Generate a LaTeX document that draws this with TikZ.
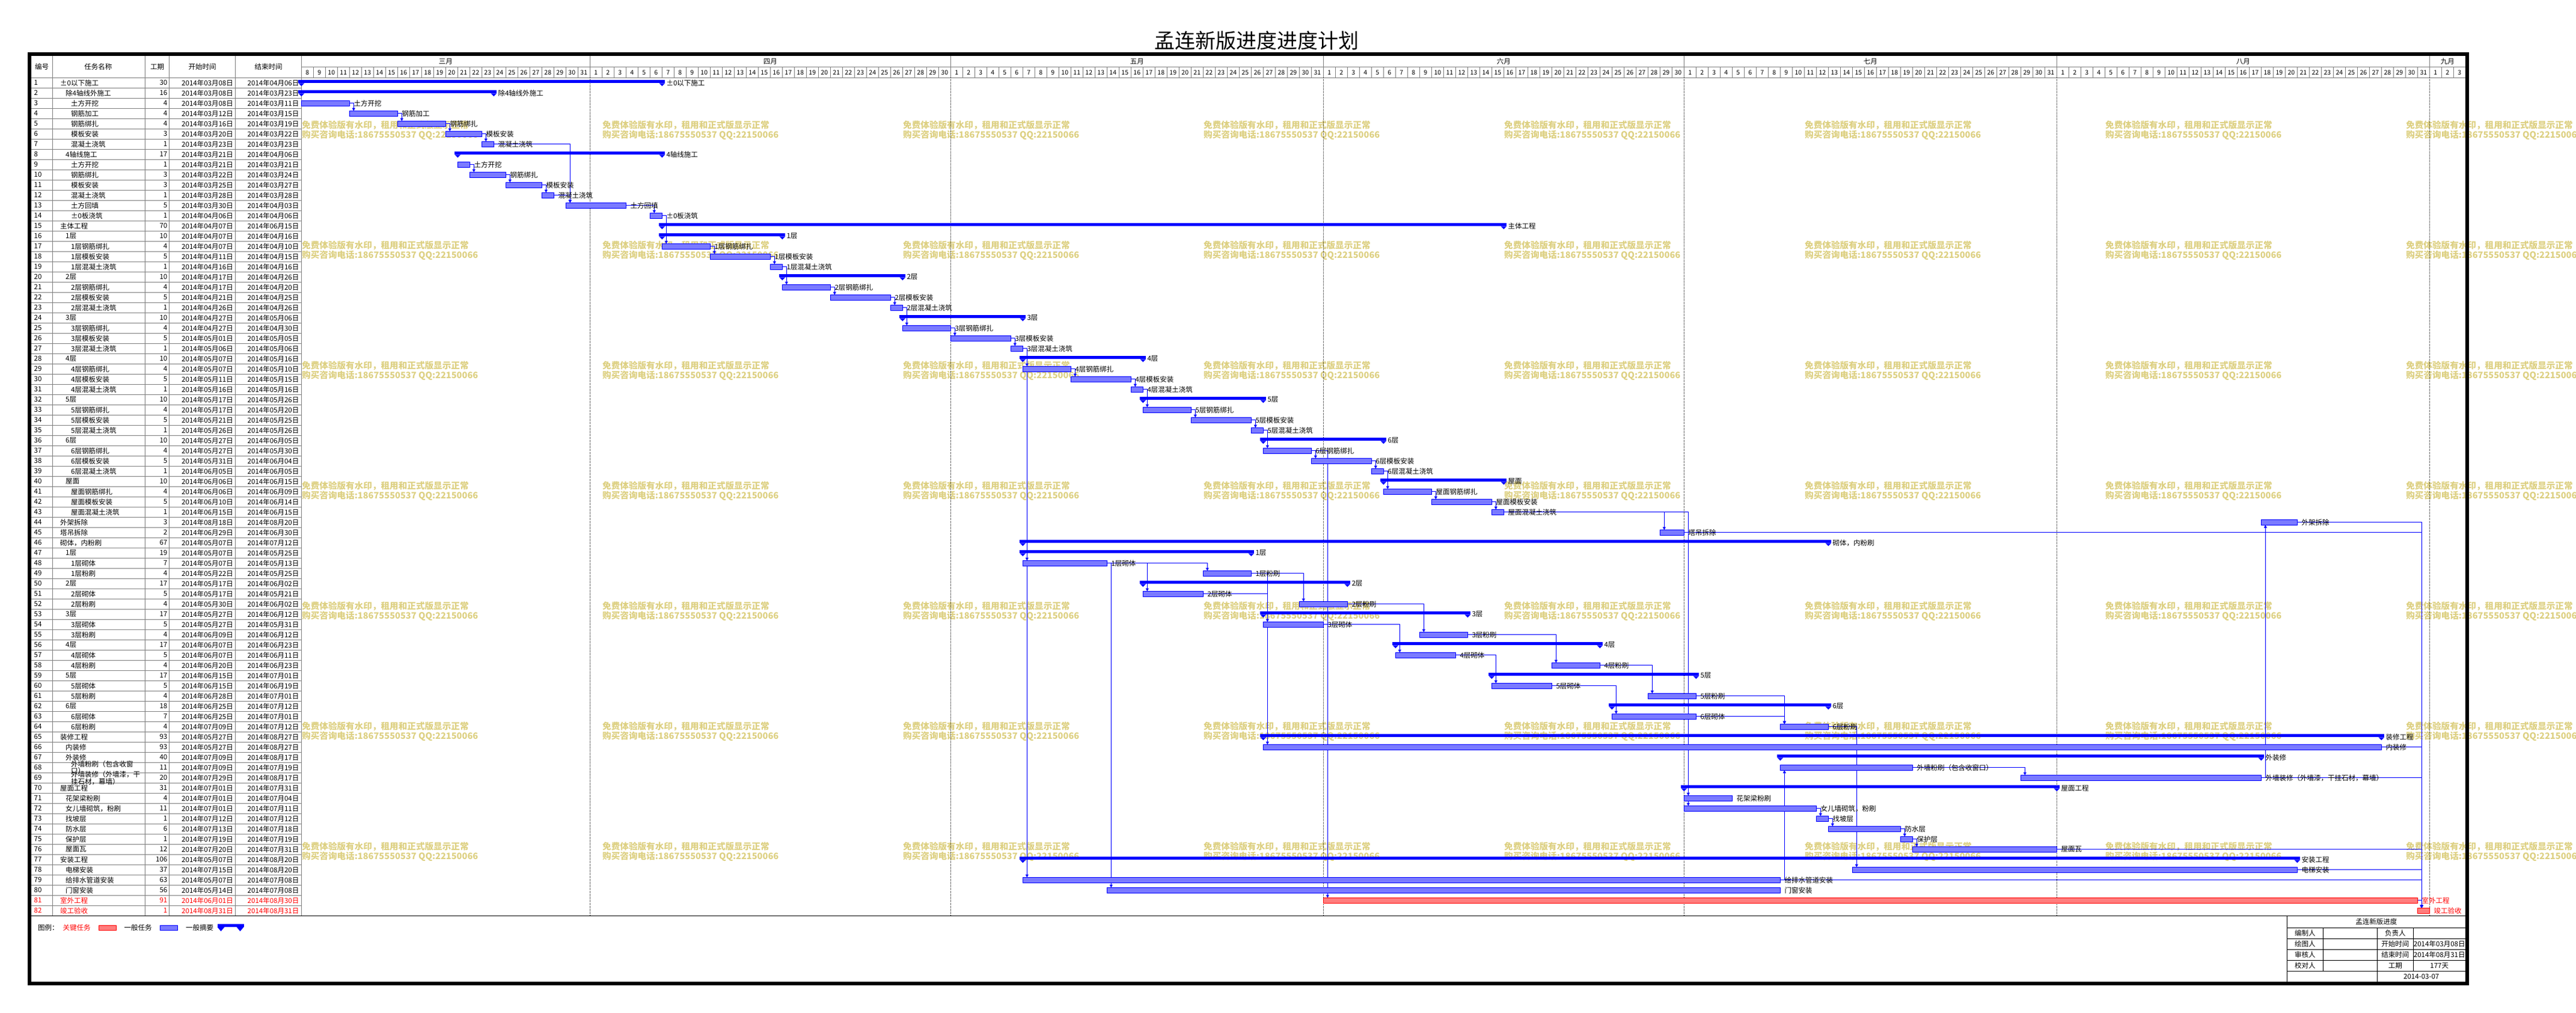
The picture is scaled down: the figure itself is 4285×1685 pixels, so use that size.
\documentclass[tikz,border=0pt]{standalone}
\usepackage{fontspec}
\setmainfont{Noto Sans CJK SC}
\usetikzlibrary{arrows.meta}
\pgfdeclarelayer{back}
\pgfsetlayers{back,main}
\definecolor{gridgray}{RGB}{128,128,128}
\definecolor{hatchblue}{RGB}{122,122,255}
\definecolor{hatchred}{RGB}{255,125,125}
\definecolor{wmcolor}{RGB}{221,208,130}
\tikzset{
  cellline/.style={gridgray,line width=1pt},
  blkline/.style={black,line width=1pt},
  celltxt/.style={inner sep=0pt,font=\fontsize{11.5}{11}\selectfont},
  nametxt/.style={align=left},
  ttext/.style={}, stext/.style={}, ctext/.style={text=red},
  tbar/.style={draw=blue,fill=hatchblue,line width=0.8pt,minimum width={#1},minimum height=8.5,inner sep=0pt,outer sep=0pt,anchor=west},
  cbar/.style={draw=red,fill=hatchred,line width=0.8pt,minimum width={#1},minimum height=8.5,inner sep=0pt,outer sep=0pt,anchor=west},
  sbar/.style={fill=blue,minimum width={#1+10},minimum height=5,inner sep=0pt,outer sep=0pt,anchor=west,xshift=-5pt,yshift=2pt},
  tlab/.style={celltxt,anchor=west}, slab/.style={celltxt,anchor=west}, clab/.style={celltxt,anchor=west,text=red},
  link/.style={blue,line width=0.9pt,-{Triangle[length=5pt,width=5pt]}},
  monthline/.style={black,line width=0.8pt,dash pattern=on 1pt off 1.5pt},
  wmark/.style={inner sep=0pt,anchor=west,text=wmcolor,font=\fontsize{14.6}{15}\selectfont\bfseries},
}
% table row: id, level, name, duration, start, end, type
\newcommand{\trow}[7]{%
  \pgfmathsetmacro\rowy{137.8+17*(#1-1)}%
  \node[celltxt,#7text,anchor=west] (no#1) at (56.5,\rowy) {#1};
  \node[celltxt,nametxt,#7text,anchor=west] (na#1) at ({100+9*(#2-1)},\rowy) {#3};
  \node[celltxt,#7text,anchor=east] (du#1) at (278.5,\rowy) {#4};
  \node[celltxt,#7text,anchor=east] (st#1) at (388,\rowy) {2014年#5日};
  \node[celltxt,#7text,anchor=east] (en#1) at (497.5,\rowy) {2014年#6日};
}
\newcommand{\barcapt}[1]{}
\newcommand{\barcapc}[1]{}
\newcommand{\barcaps}[1]{%
  \fill[blue] (#1.south west) -- ++(10,0) -- ++(-5,5) -- cycle;
  \fill[blue] (#1.south east) -- ++(-10,0) -- ++(5,5) -- cycle;}
% gantt bar: id, first day, last day, type, label
\newcommand{\tbar}[5]{%
  \pgfmathsetmacro\rowy{137.8+17*(#1-1)}%
  \pgfmathsetmacro\barx{501.3+20*#2}%
  \pgfmathsetmacro\barw{20*(#3-#2+1)}%
  \node[#4bar=\barw] (b#1) at (\barx,\rowy) {};
  \csname barcap#4\endcsname{b#1}
  \node[#4lab] (l#1) at ({501.3+20*(#3+1)+7},\rowy) {#5};
}
\newcommand{\monthdays}[4]{%
  \foreach \dy in {#2,...,#3}{
    \node[celltxt,font=\fontsize{10.5}{10}\selectfont] (#4\dy) at ({501.3+20*(\dy+#1)+10},120.5) {\dy};
  }}

\begin{document}
\begin{tikzpicture}[x=1pt,y=-1pt]
\useasboundingbox (0,0) rectangle (4285,1685);
\node (title) at (2090,68) {\fontsize{34}{34}\selectfont 孟连新版进度进度计划};

% watermark
\begin{pgfonlayer}{back}
\foreach \wx in {502,1002,...,4002}{
  \foreach \wy in {208,408,...,1408}{
    \node[wmark] (wa\wx-\wy) at (\wx,\wy) {免费体验版有水印，租用和正式版显示正常};
    \node[wmark] (wb\wx-\wy) at (\wx,\wy+17) {购买咨询电话:18675550537 QQ:22150066};
  }
}
\end{pgfonlayer}

% header
\draw[cellline] (501.3,111.7) -- (4101,111.7);
\draw[cellline] (51.5,129.3) -- (4101,129.3);
\foreach \i in {1,...,179} \draw[cellline] ({501.3+20*\i},111.7) -- ({501.3+20*\i},129.3);
\foreach \i in {24,54,85,115,146,177}{
  \draw[cellline] ({501.3+20*\i},93.3) -- ({501.3+20*\i},111.7);
  \draw[monthline] ({501.3+20*\i},129.3) -- ({501.3+20*\i},1523.3);
}
\node[celltxt] (m3) at (741.3,102.5) {三月};
\node[celltxt] (m4) at (1281.3,102.5) {四月};
\node[celltxt] (m5) at (1891.3,102.5) {五月};
\node[celltxt] (m6) at (2501.3,102.5) {六月};
\node[celltxt] (m7) at (3111.3,102.5) {七月};
\node[celltxt] (m8) at (3731.3,102.5) {八月};
\node[celltxt] (m9) at (4071.3,102.5) {九月};
\monthdays{-8}{8}{31}{mar}
\monthdays{23}{1}{30}{apr}
\monthdays{53}{1}{31}{may}
\monthdays{84}{1}{30}{jun}
\monthdays{114}{1}{31}{jul}
\monthdays{145}{1}{31}{aug}
\monthdays{176}{1}{3}{sep}

% table
\foreach \r in {1,...,81} \draw[cellline] (51.5,{129.3+17*\r}) -- (501.3,{129.3+17*\r});
\foreach \c in {87.7,241.7,281.3,391.7,501.3} \draw[cellline] (\c,93.3) -- (\c,1523.3);
\node[celltxt,anchor=west] (hno) at (58,111.3) {编号};
\node[celltxt] (hna) at (163.3,111.3) {任务名称};
\node[celltxt] (hdu) at (261.5,111.3) {工期};
\node[celltxt] (hst) at (336.5,111.3) {开始时间};
\node[celltxt] (hen) at (446.5,111.3) {结束时间};

\trow{1}{1}{±0以下施工}{30}{03月08}{04月06}{s}  \tbar{1}{0}{29}{s}{±0以下施工}
\trow{2}{2}{除4轴线外施工}{16}{03月08}{03月23}{s}  \tbar{2}{0}{15}{s}{除4轴线外施工}
\trow{3}{3}{土方开挖}{4}{03月08}{03月11}{t}  \tbar{3}{0}{3}{t}{土方开挖}
\trow{4}{3}{钢筋加工}{4}{03月12}{03月15}{t}  \tbar{4}{4}{7}{t}{钢筋加工}
\trow{5}{3}{钢筋绑扎}{4}{03月16}{03月19}{t}  \tbar{5}{8}{11}{t}{钢筋绑扎}
\trow{6}{3}{模板安装}{3}{03月20}{03月22}{t}  \tbar{6}{12}{14}{t}{模板安装}
\trow{7}{3}{混凝土浇筑}{1}{03月23}{03月23}{t}  \tbar{7}{15}{15}{t}{混凝土浇筑}
\trow{8}{2}{4轴线施工}{17}{03月21}{04月06}{s}  \tbar{8}{13}{29}{s}{4轴线施工}
\trow{9}{3}{土方开挖}{1}{03月21}{03月21}{t}  \tbar{9}{13}{13}{t}{土方开挖}
\trow{10}{3}{钢筋绑扎}{3}{03月22}{03月24}{t}  \tbar{10}{14}{16}{t}{钢筋绑扎}
\trow{11}{3}{模板安装}{3}{03月25}{03月27}{t}  \tbar{11}{17}{19}{t}{模板安装}
\trow{12}{3}{混凝土浇筑}{1}{03月28}{03月28}{t}  \tbar{12}{20}{20}{t}{混凝土浇筑}
\trow{13}{3}{土方回填}{5}{03月30}{04月03}{t}  \tbar{13}{22}{26}{t}{土方回填}
\trow{14}{3}{±0板浇筑}{1}{04月06}{04月06}{t}  \tbar{14}{29}{29}{t}{±0板浇筑}
\trow{15}{1}{主体工程}{70}{04月07}{06月15}{s}  \tbar{15}{30}{99}{s}{主体工程}
\trow{16}{2}{1层}{10}{04月07}{04月16}{s}  \tbar{16}{30}{39}{s}{1层}
\trow{17}{3}{1层钢筋绑扎}{4}{04月07}{04月10}{t}  \tbar{17}{30}{33}{t}{1层钢筋绑扎}
\trow{18}{3}{1层模板安装}{5}{04月11}{04月15}{t}  \tbar{18}{34}{38}{t}{1层模板安装}
\trow{19}{3}{1层混凝土浇筑}{1}{04月16}{04月16}{t}  \tbar{19}{39}{39}{t}{1层混凝土浇筑}
\trow{20}{2}{2层}{10}{04月17}{04月26}{s}  \tbar{20}{40}{49}{s}{2层}
\trow{21}{3}{2层钢筋绑扎}{4}{04月17}{04月20}{t}  \tbar{21}{40}{43}{t}{2层钢筋绑扎}
\trow{22}{3}{2层模板安装}{5}{04月21}{04月25}{t}  \tbar{22}{44}{48}{t}{2层模板安装}
\trow{23}{3}{2层混凝土浇筑}{1}{04月26}{04月26}{t}  \tbar{23}{49}{49}{t}{2层混凝土浇筑}
\trow{24}{2}{3层}{10}{04月27}{05月06}{s}  \tbar{24}{50}{59}{s}{3层}
\trow{25}{3}{3层钢筋绑扎}{4}{04月27}{04月30}{t}  \tbar{25}{50}{53}{t}{3层钢筋绑扎}
\trow{26}{3}{3层模板安装}{5}{05月01}{05月05}{t}  \tbar{26}{54}{58}{t}{3层模板安装}
\trow{27}{3}{3层混凝土浇筑}{1}{05月06}{05月06}{t}  \tbar{27}{59}{59}{t}{3层混凝土浇筑}
\trow{28}{2}{4层}{10}{05月07}{05月16}{s}  \tbar{28}{60}{69}{s}{4层}
\trow{29}{3}{4层钢筋绑扎}{4}{05月07}{05月10}{t}  \tbar{29}{60}{63}{t}{4层钢筋绑扎}
\trow{30}{3}{4层模板安装}{5}{05月11}{05月15}{t}  \tbar{30}{64}{68}{t}{4层模板安装}
\trow{31}{3}{4层混凝土浇筑}{1}{05月16}{05月16}{t}  \tbar{31}{69}{69}{t}{4层混凝土浇筑}
\trow{32}{2}{5层}{10}{05月17}{05月26}{s}  \tbar{32}{70}{79}{s}{5层}
\trow{33}{3}{5层钢筋绑扎}{4}{05月17}{05月20}{t}  \tbar{33}{70}{73}{t}{5层钢筋绑扎}
\trow{34}{3}{5层模板安装}{5}{05月21}{05月25}{t}  \tbar{34}{74}{78}{t}{5层模板安装}
\trow{35}{3}{5层混凝土浇筑}{1}{05月26}{05月26}{t}  \tbar{35}{79}{79}{t}{5层混凝土浇筑}
\trow{36}{2}{6层}{10}{05月27}{06月05}{s}  \tbar{36}{80}{89}{s}{6层}
\trow{37}{3}{6层钢筋绑扎}{4}{05月27}{05月30}{t}  \tbar{37}{80}{83}{t}{6层钢筋绑扎}
\trow{38}{3}{6层模板安装}{5}{05月31}{06月04}{t}  \tbar{38}{84}{88}{t}{6层模板安装}
\trow{39}{3}{6层混凝土浇筑}{1}{06月05}{06月05}{t}  \tbar{39}{89}{89}{t}{6层混凝土浇筑}
\trow{40}{2}{屋面}{10}{06月06}{06月15}{s}  \tbar{40}{90}{99}{s}{屋面}
\trow{41}{3}{屋面钢筋绑扎}{4}{06月06}{06月09}{t}  \tbar{41}{90}{93}{t}{屋面钢筋绑扎}
\trow{42}{3}{屋面模板安装}{5}{06月10}{06月14}{t}  \tbar{42}{94}{98}{t}{屋面模板安装}
\trow{43}{3}{屋面混凝土浇筑}{1}{06月15}{06月15}{t}  \tbar{43}{99}{99}{t}{屋面混凝土浇筑}
\trow{44}{1}{外架拆除}{3}{08月18}{08月20}{t}  \tbar{44}{163}{165}{t}{外架拆除}
\trow{45}{1}{塔吊拆除}{2}{06月29}{06月30}{t}  \tbar{45}{113}{114}{t}{塔吊拆除}
\trow{46}{1}{砌体，内粉刷}{67}{05月07}{07月12}{s}  \tbar{46}{60}{126}{s}{砌体，内粉刷}
\trow{47}{2}{1层}{19}{05月07}{05月25}{s}  \tbar{47}{60}{78}{s}{1层}
\trow{48}{3}{1层砌体}{7}{05月07}{05月13}{t}  \tbar{48}{60}{66}{t}{1层砌体}
\trow{49}{3}{1层粉刷}{4}{05月22}{05月25}{t}  \tbar{49}{75}{78}{t}{1层粉刷}
\trow{50}{2}{2层}{17}{05月17}{06月02}{s}  \tbar{50}{70}{86}{s}{2层}
\trow{51}{3}{2层砌体}{5}{05月17}{05月21}{t}  \tbar{51}{70}{74}{t}{2层砌体}
\trow{52}{3}{2层粉刷}{4}{05月30}{06月02}{t}  \tbar{52}{83}{86}{t}{2层粉刷}
\trow{53}{2}{3层}{17}{05月27}{06月12}{s}  \tbar{53}{80}{96}{s}{3层}
\trow{54}{3}{3层砌体}{5}{05月27}{05月31}{t}  \tbar{54}{80}{84}{t}{3层砌体}
\trow{55}{3}{3层粉刷}{4}{06月09}{06月12}{t}  \tbar{55}{93}{96}{t}{3层粉刷}
\trow{56}{2}{4层}{17}{06月07}{06月23}{s}  \tbar{56}{91}{107}{s}{4层}
\trow{57}{3}{4层砌体}{5}{06月07}{06月11}{t}  \tbar{57}{91}{95}{t}{4层砌体}
\trow{58}{3}{4层粉刷}{4}{06月20}{06月23}{t}  \tbar{58}{104}{107}{t}{4层粉刷}
\trow{59}{2}{5层}{17}{06月15}{07月01}{s}  \tbar{59}{99}{115}{s}{5层}
\trow{60}{3}{5层砌体}{5}{06月15}{06月19}{t}  \tbar{60}{99}{103}{t}{5层砌体}
\trow{61}{3}{5层粉刷}{4}{06月28}{07月01}{t}  \tbar{61}{112}{115}{t}{5层粉刷}
\trow{62}{2}{6层}{18}{06月25}{07月12}{s}  \tbar{62}{109}{126}{s}{6层}
\trow{63}{3}{6层砌体}{7}{06月25}{07月01}{t}  \tbar{63}{109}{115}{t}{6层砌体}
\trow{64}{3}{6层粉刷}{4}{07月09}{07月12}{t}  \tbar{64}{123}{126}{t}{6层粉刷}
\trow{65}{1}{装修工程}{93}{05月27}{08月27}{s}  \tbar{65}{80}{172}{s}{装修工程}
\trow{66}{2}{内装修}{93}{05月27}{08月27}{t}  \tbar{66}{80}{172}{t}{内装修}
\trow{67}{2}{外装修}{40}{07月09}{08月17}{s}  \tbar{67}{123}{162}{s}{外装修}
\trow{68}{3}{外墙粉刷（包含收窗\\口）}{11}{07月09}{07月19}{t}  \tbar{68}{123}{133}{t}{外墙粉刷（包含收窗口）}
\trow{69}{3}{外墙装修（外墙漆，干\\挂石材，幕墙）}{20}{07月29}{08月17}{t}  \tbar{69}{143}{162}{t}{外墙装修（外墙漆，干挂石材，幕墙）}
\trow{70}{1}{屋面工程}{31}{07月01}{07月31}{s}  \tbar{70}{115}{145}{s}{屋面工程}
\trow{71}{2}{花架梁粉刷}{4}{07月01}{07月04}{t}  \tbar{71}{115}{118}{t}{花架梁粉刷}
\trow{72}{2}{女儿墙砌筑，粉刷}{11}{07月01}{07月11}{t}  \tbar{72}{115}{125}{t}{女儿墙砌筑，粉刷}
\trow{73}{2}{找坡层}{1}{07月12}{07月12}{t}  \tbar{73}{126}{126}{t}{找坡层}
\trow{74}{2}{防水层}{6}{07月13}{07月18}{t}  \tbar{74}{127}{132}{t}{防水层}
\trow{75}{2}{保护层}{1}{07月19}{07月19}{t}  \tbar{75}{133}{133}{t}{保护层}
\trow{76}{2}{屋面瓦}{12}{07月20}{07月31}{t}  \tbar{76}{134}{145}{t}{屋面瓦}
\trow{77}{1}{安装工程}{106}{05月07}{08月20}{s}  \tbar{77}{60}{165}{s}{安装工程}
\trow{78}{2}{电梯安装}{37}{07月15}{08月20}{t}  \tbar{78}{129}{165}{t}{电梯安装}
\trow{79}{2}{给排水管道安装}{63}{05月07}{07月08}{t}  \tbar{79}{60}{122}{t}{给排水管道安装}
\trow{80}{2}{门窗安装}{56}{05月14}{07月08}{t}  \tbar{80}{67}{122}{t}{门窗安装}
\trow{81}{1}{室外工程}{91}{06月01}{08月30}{c}  \tbar{81}{85}{175}{c}{室外工程}
\trow{82}{1}{竣工验收}{1}{08月31}{08月31}{c}  \tbar{82}{176}{176}{c}{竣工验收}

% links
\begin{pgfonlayer}{back}
\foreach \p/\s in {3/4,4/5,5/6,6/7,7/13,9/10,10/11,11/12,12/13,13/14,14/17,
  17/18,18/19,19/21,21/22,22/23,23/25,25/26,26/27,27/29,29/30,30/31,31/33,
  33/34,34/35,35/37,37/38,38/39,39/41,41/42,42/43,27/48,27/79,48/49,48/51,
  48/80,49/52,49/66,51/54,52/55,54/57,55/58,57/60,58/61,60/63,61/64,63/64,
  37/81,43/45,43/71,43/72,64/78,68/69,72/73,73/74,74/75,75/76,
  44/82,45/82,66/82,69/82,76/82,78/82,79/82,81/82}
  \draw[link] (b\p.east) -| ([xshift=7pt]b\s.north west);
\foreach \p/\s in {79/68,69/44}
  \draw[link] (b\p.east) -| ([xshift=7pt]b\s.south west);
\end{pgfonlayer}

% legend
\draw[line width=1.5pt] (51.5,1523.3) -- (4101,1523.3);
\node[celltxt,anchor=west] (lg) at (63,1543.3) {图例：};
\node[celltxt,ctext,anchor=west] (lgc) at (104.3,1543.3) {关键任务};
\node[cbar=29.4] (lgcb) at (164.4,1543.3) {};
\node[celltxt,anchor=west] (lgt) at (206.5,1543.3) {一般任务};
\node[tbar=29] (lgtb) at (266.6,1543.3) {};
\node[celltxt,anchor=west] (lgs) at (309,1543.3) {一般摘要};
\node[sbar=34] (lgsb) at (366.5,1541.5) {};
\fill[blue] (lgsb.south west) -- ++(12,0) -- ++(-6,7) -- cycle;
\fill[blue] (lgsb.south east) -- ++(-12,0) -- ++(6,7) -- cycle;

% title block
\draw[blkline] (3804.3,1523.3) -- (3804.3,1633);
\foreach \h in {1543.3,1561.3,1579.3,1597.3,1615.3} \draw[blkline] (3804.3,\h) -- (4101,\h);
\draw[blkline] (3864.3,1543.3) -- (3864.3,1615.3);
\draw[blkline] (3954.3,1543.3) -- (3954.3,1633);
\draw[blkline] (4014.3,1543.3) -- (4014.3,1615.3);
\node[celltxt] (tbname) at (3952.7,1533.3) {孟连新版进度};
\node[celltxt] (tba1) at (3834.3,1552.3) {编制人};
\node[celltxt] (tba2) at (3834.3,1570.3) {绘图人};
\node[celltxt] (tba3) at (3834.3,1588.3) {审核人};
\node[celltxt] (tba4) at (3834.3,1606.3) {校对人};
\node[celltxt] (tbb1) at (3984.3,1552.3) {负责人};
\node[celltxt] (tbb2) at (3984.3,1570.3) {开始时间};
\node[celltxt] (tbb3) at (3984.3,1588.3) {结束时间};
\node[celltxt] (tbb4) at (3984.3,1606.3) {工期};
\node[celltxt] (tbc2) at (4057.7,1570.3) {2014年03月08日};
\node[celltxt] (tbc3) at (4057.7,1588.3) {2014年08月31日};
\node[celltxt] (tbc4) at (4057.7,1606.3) {177天};
\node[celltxt] (tbdate) at (4027.7,1624.3) {2014-03-07};

% frame
\draw[line width=6pt] (48.5,90) rectangle (4104,1635.5);
\end{tikzpicture}
\end{document}
